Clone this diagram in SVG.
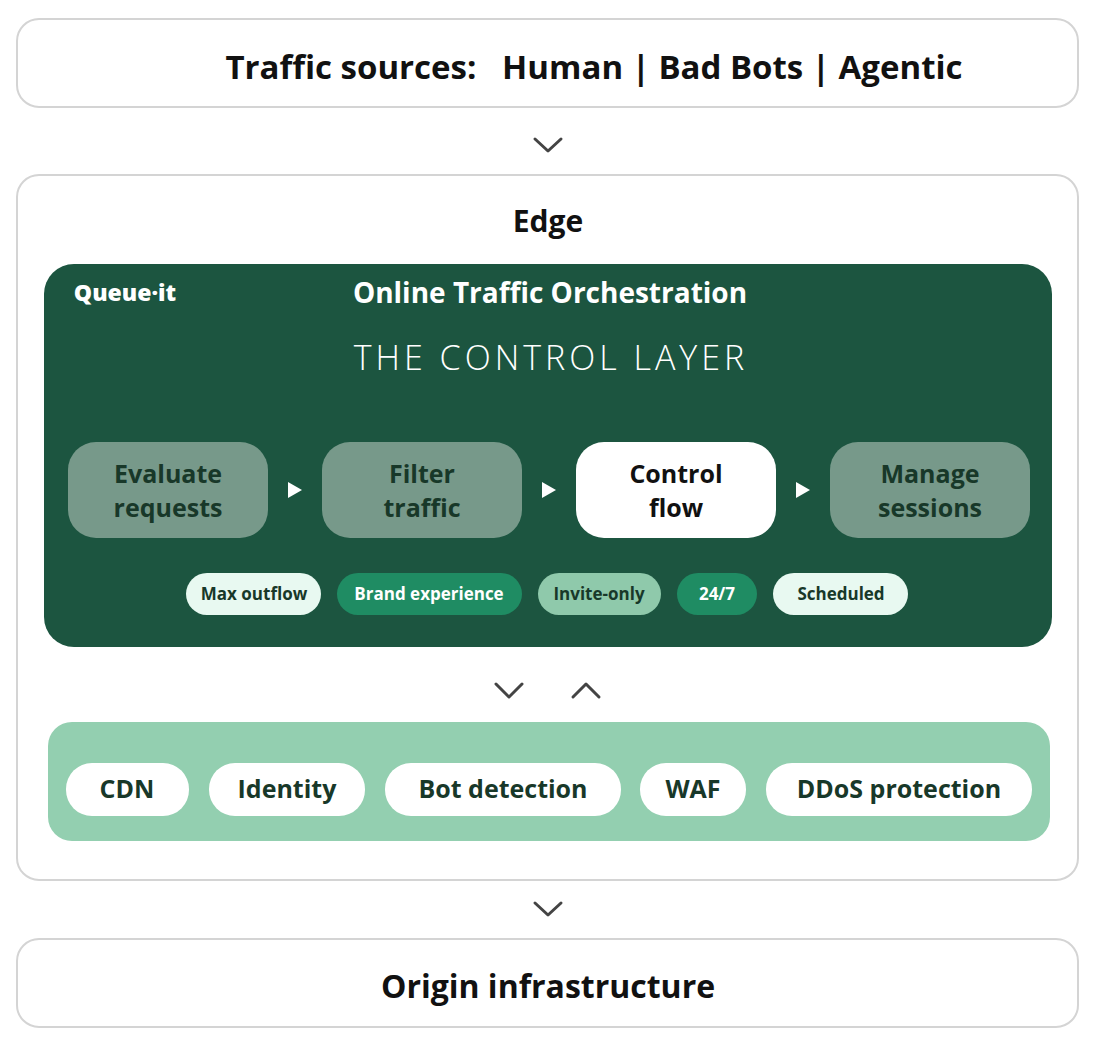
<svg xmlns="http://www.w3.org/2000/svg" width="1100" height="1044" viewBox="0 0 1100 1044">
<style>
text{font-family:"Open Sans","Noto Sans","Liberation Sans",sans-serif;font-weight:bold;text-anchor:middle}
.outer{fill:#fff;stroke:#d4d4d4;stroke-width:2}
.step{fill:#77998a}
.stxt{fill:#183829;font-size:25px}
.chev{fill:none;stroke:#444;stroke-width:3;stroke-linecap:round;stroke-linejoin:round}
.tri{fill:#fff}
.pl{font-size:17px}
.sp{fill:#fff}
.spt{fill:#183829;font-size:25px}
</style>
<rect width="1100" height="1044" fill="#fff"/>
<g id="sources"><rect class="outer" x="17" y="19" width="1061" height="88" rx="22"/>
<text x="594" y="79" font-size="33" fill="#111" xml:space="preserve">Traffic sources:   Human | Bad Bots | Agentic</text></g>
<g id="edge"><rect class="outer" x="17" y="175" width="1061" height="705" rx="22"/>
<text x="548" y="232" font-size="30" fill="#111">Edge</text></g>
<g id="control">
<rect x="44" y="264" width="1008" height="383" rx="30" fill="#1c5540"/>
<text x="125" y="301" font-size="23" font-weight="800" style="font-weight:800" fill="#fff">Queue·it</text>
<text x="550" y="303" font-size="28" fill="#fff">Online Traffic Orchestration</text>
<text x="551" y="370" font-size="34" style="font-weight:300" letter-spacing="4" fill="#fff">THE CONTROL LAYER</text>
</g>
<g id="evaluate"><rect class="step" x="68" y="442" width="200" height="96" rx="28"/><text class="stxt" x="168" y="483">Evaluate</text><text class="stxt" x="168" y="517">requests</text></g>
<g id="filter"><rect class="step" x="322" y="442" width="200" height="96" rx="28"/><text class="stxt" x="422" y="483">Filter</text><text class="stxt" x="422" y="517">traffic</text></g>
<g id="controlflow"><rect x="576" y="442" width="200" height="96" rx="28" fill="#fff"/><text class="stxt" x="676" y="483" style="fill:#111">Control</text><text class="stxt" x="676" y="517" style="fill:#111">flow</text></g>
<g id="manage"><rect class="step" x="830" y="442" width="200" height="96" rx="28"/><text class="stxt" x="930" y="483">Manage</text><text class="stxt" x="930" y="517">sessions</text></g>
<g id="pills">
<rect x="186" y="573" width="135" height="42" rx="21" fill="#e8f9f1"/><text class="pl" x="254" y="600" fill="#183829">Max outflow</text>
<rect x="337" y="573" width="185" height="42" rx="21" fill="#1f8c63"/><text class="pl" x="429" y="600" fill="#fff">Brand experience</text>
<rect x="538" y="573" width="123" height="42" rx="21" fill="#8fc9ab"/><text class="pl" x="599" y="600" fill="#183829">Invite-only</text>
<rect x="677" y="573" width="80" height="42" rx="21" fill="#1f8c63"/><text class="pl" x="717" y="600" fill="#fff">24/7</text>
<rect x="773" y="573" width="135" height="42" rx="21" fill="#e8f9f1"/><text class="pl" x="841" y="600" fill="#183829">Scheduled</text>
</g>
<g id="security">
<rect x="48" y="722" width="1002" height="119" rx="24" fill="#93cfb0"/>
<rect class="sp" x="66" y="763" width="123" height="53" rx="26"/><text class="spt" x="127" y="798">CDN</text>
<rect class="sp" x="209" y="763" width="156" height="53" rx="26"/><text class="spt" x="287" y="798">Identity</text>
<rect class="sp" x="385" y="763" width="236" height="53" rx="26"/><text class="spt" x="503" y="798">Bot detection</text>
<rect class="sp" x="640" y="763" width="106" height="53" rx="26"/><text class="spt" x="693" y="798">WAF</text>
<rect class="sp" x="766" y="763" width="266" height="53" rx="26"/><text class="spt" x="899" y="798">DDoS protection</text>
</g>
<g id="origin"><rect class="outer" x="17" y="939" width="1061" height="88" rx="22"/>
<text x="548" y="998" font-size="32" fill="#111">Origin infrastructure</text></g>
<g id="connectors">
<path class="chev" d="M535 139 L548 151 L561 139"/>
<path class="chev" d="M496 684 L509 697 L522 684"/>
<path class="chev" d="M573 697 L586 684 L599 697"/>
<path class="chev" d="M535 903 L548 915 L561 903"/>
<polygon class="tri" points="288,482 302,490 288,498"/>
<polygon class="tri" points="542,482 556,490 542,498"/>
<polygon class="tri" points="796,482 810,490 796,498"/>
</g>
</svg>
